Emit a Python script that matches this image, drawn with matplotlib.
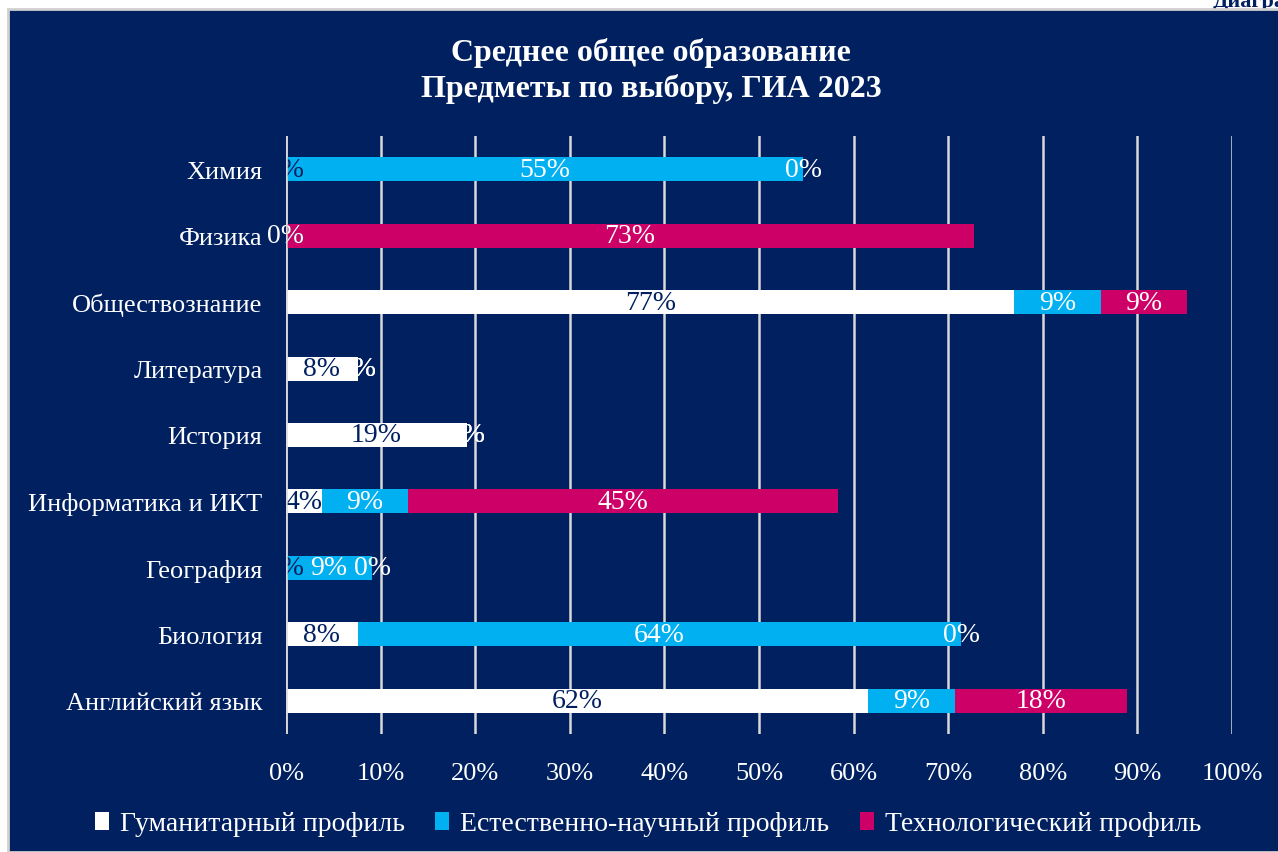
import matplotlib
matplotlib.use('Agg')
from matplotlib import pyplot as plt
from matplotlib.patches import Rectangle
import numpy as np

# data (fractions)
subjects = ['Химия', 'Физика', 'Обществознание', 'Литература', 'История',
            'Информатика и ИКТ', 'География', 'Биология', 'Английский язык']
hum = [0.0, 0.0, 0.77, 0.076, 0.191, 0.038, 0.0, 0.076, 0.615]
nat = [0.547, 0.0, 0.091, 0.0, 0.0, 0.091, 0.091, 0.638, 0.092]
tech = [0.0, 0.727, 0.091, 0.0, 0.0, 0.454, 0.0, 0.0, 0.182]
series_names = ['Гуманитарный профиль', 'Естественно-научный профиль', 'Технологический профиль']
title = 'Среднее общее образование\nПредметы по выбору, ГИА 2023'

navy = '#002060'
blue = '#00B0F0'
magenta = '#CC0066'

plt.rcParams['font.family'] = ['Liberation Serif', 'DejaVu Serif']

fig = plt.figure(figsize=(12.78, 8.53), dpi=100)
fig.patch.set_facecolor('white')

# cut-off header text behind the chart frame
fig.text(1213/1278, 1 - 2/853, 'Диаграмма', color=navy, fontsize=16, fontweight='bold',
         ha='left', va='center', zorder=0)
fig.patches.append(Rectangle((8/1278, 0), 1, 1 - 10/853, transform=fig.transFigure,
                             facecolor=navy, edgecolor='#d0d0d0', linewidth=2, zorder=1))

ax = fig.add_axes([286/1278, 118/853, 946/1278, 598/853], zorder=2)
ax.set_facecolor('none')

y = np.arange(len(subjects))
h = 0.36
left = np.zeros(len(subjects))
for vals, col, lab_col, name in [(hum, 'white', navy, series_names[0]),
                                 (nat, blue, 'white', series_names[1]),
                                 (tech, magenta, 'white', series_names[2])]:
    vals = np.array(vals)
    bars = ax.barh(y, vals, left=left, height=h, color=col, label=name, zorder=3)
    ax.bar_label(bars, labels=['%d%%' % round(v * 100) for v in vals], label_type='center',
                 color=lab_col, fontsize=20, zorder=4)
    left = left + vals

ax.set_ylim(len(subjects) - 0.5, -0.5)
ax.set_xlim(0, 1.0)
ax.set_yticks(y)
ax.set_yticklabels(subjects, color='white', fontsize=19)
ax.set_xticks(np.arange(0, 1.01, 0.1))
ax.set_xticklabels(['%d%%' % (v * 10) for v in range(11)], color='white', fontsize=19)
ax.tick_params(axis='both', length=0)
ax.tick_params(axis='x', pad=20)
ax.tick_params(axis='y', pad=17)
for s in ax.spines.values():
    s.set_visible(False)
ax.grid(axis='x', color='#d9d9d9', linewidth=1.8, zorder=0)
ax.axvline(0, color='#d9d9d9', linewidth=1.8, zorder=5)

fig.text(651/1278, 1 - 71/853, title, color='white', fontsize=23, fontweight='bold',
         ha='center', va='center', linespacing=1.25, zorder=3)

leg = fig.legend(loc='center', bbox_to_anchor=(648/1278, 1 - 825/853), ncol=3,
                 frameon=False, fontsize=20, handlelength=0.5, handleheight=0.6,
                 handletextpad=0.4, columnspacing=1.1, labelcolor='white')

plt.savefig('out.png', dpi=100, facecolor=fig.get_facecolor())
